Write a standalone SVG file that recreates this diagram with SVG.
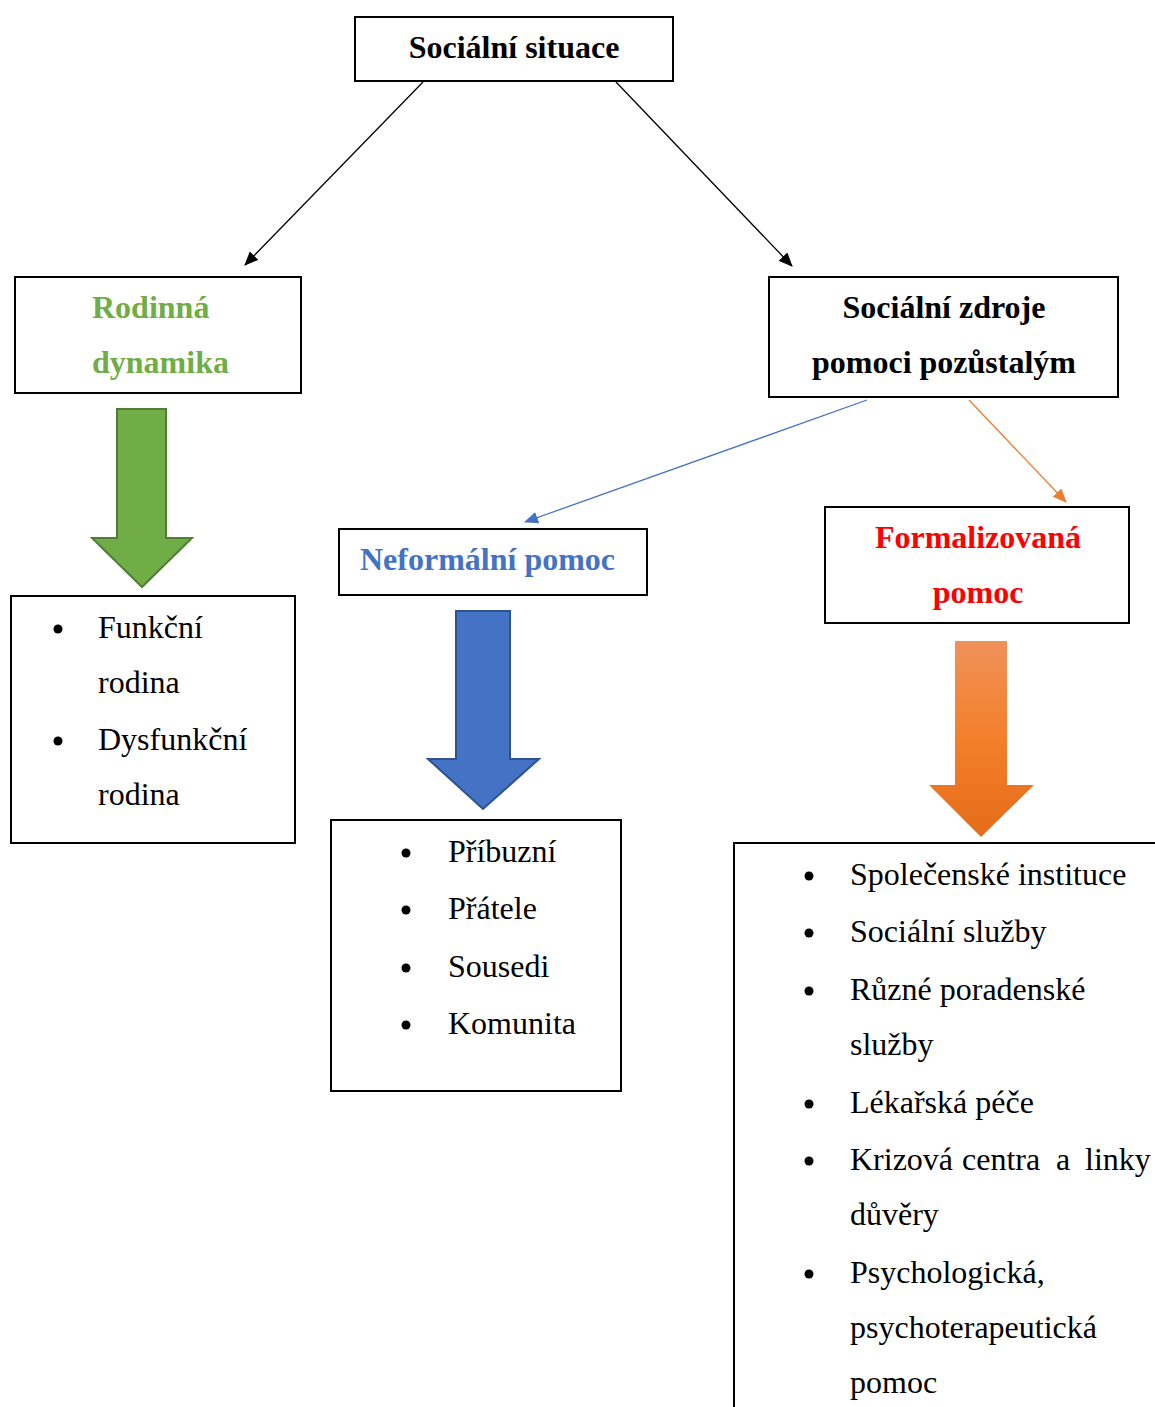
<svg xmlns="http://www.w3.org/2000/svg" width="1155" height="1407" viewBox="0 0 1155 1407">
<style>
.box{fill:#fff;stroke:#000;stroke-width:2}
.t{font-family:"Liberation Serif","Times New Roman",serif;font-size:32px;fill:#000}
.b{font-weight:bold}
.c{text-anchor:middle}
.dot{fill:#000}
</style>
<defs>
<marker id="ak" viewBox="0 0 14 12" refX="13" refY="6" markerWidth="14" markerHeight="12" orient="auto" markerUnits="userSpaceOnUse"><path d="M0,0 L14,6 L0,12 z" fill="#000"/></marker>
<marker id="ab" viewBox="0 0 14 12" refX="13" refY="6" markerWidth="14" markerHeight="12" orient="auto" markerUnits="userSpaceOnUse"><path d="M0,0 L14,6 L0,12 z" fill="#4472C4"/></marker>
<marker id="ao" viewBox="0 0 14 12" refX="13" refY="6" markerWidth="14" markerHeight="12" orient="auto" markerUnits="userSpaceOnUse"><path d="M0,0 L14,6 L0,12 z" fill="#ED7D31"/></marker>
<linearGradient id="og" x1="0" y1="0" x2="0" y2="1">
<stop offset="0" stop-color="#F0915A"/>
<stop offset="0.5" stop-color="#F47F2A"/>
<stop offset="1" stop-color="#E46C1A"/>
</linearGradient>
</defs>
<g id="connectors">
<line x1="423" y1="82" x2="245" y2="265" stroke="#000" stroke-width="1.3" marker-end="url(#ak)"/>
<line x1="616" y1="82" x2="792" y2="266" stroke="#000" stroke-width="1.3" marker-end="url(#ak)"/>
<line x1="867" y1="400" x2="525" y2="522" stroke="#4472C4" stroke-width="1.3" marker-end="url(#ab)"/>
<line x1="969" y1="400" x2="1066" y2="502" stroke="#ED7D31" stroke-width="1.3" marker-end="url(#ao)"/>
</g>
<g id="n-root">
<rect class="box" x="355" y="17" width="318" height="64"/>
<text class="t b c" x="514" y="58">Sociální situace</text>
</g>
<g id="n-rodinna">
<rect class="box" x="15" y="277" width="286" height="116"/>
<text class="t b" x="92" y="318" style="fill:#70AD47">Rodinná</text>
<text class="t b" x="92" y="373" style="fill:#70AD47">dynamika</text>
</g>
<g id="n-zdroje">
<rect class="box" x="769" y="277" width="349" height="120"/>
<text class="t b c" x="944" y="318">Sociální zdroje</text>
<text class="t b c" x="944" y="373">pomoci pozůstalým</text>
</g>
<g id="n-neformalni">
<rect class="box" x="339" y="529" width="308" height="66"/>
<text class="t b" x="360" y="570" style="fill:#4472C4">Neformální pomoc</text>
</g>
<g id="n-formalizovana">
<rect class="box" x="825" y="507" width="304" height="116"/>
<text class="t b c" x="978" y="548" style="fill:#FF0000">Formalizovaná</text>
<text class="t b c" x="978" y="603" style="fill:#FF0000">pomoc</text>
</g>
<g id="arrow-green">
<path d="M117,409 L166,409 L166,538 L192,538 L142,587 L92,538 L117,538 Z" fill="#70AD47" stroke="#507E32" stroke-width="2"/>
</g>
<g id="arrow-blue">
<path d="M456,611 L510,611 L510,759 L539,759 L483,809 L428,759 L456,759 Z" fill="#4472C4" stroke="#2F528F" stroke-width="2"/>
</g>
<g id="arrow-orange">
<path d="M955,641 L1007,641 L1007,785 L1034,785 L981,837 L929,785 L955,785 Z" fill="url(#og)"/>
</g>
<g id="n-list-rodina">
<rect class="box" x="11" y="596" width="284" height="247"/>
<circle class="dot" cx="58" cy="629" r="4.5"/>
<circle class="dot" cx="58" cy="741" r="4.5"/>
<text class="t" x="98" y="638">Funkční</text>
<text class="t" x="98" y="693">rodina</text>
<text class="t" x="98" y="750">Dysfunkční</text>
<text class="t" x="98" y="805">rodina</text>
</g>
<g id="n-list-neformalni">
<rect class="box" x="331" y="820" width="290" height="271"/>
<circle class="dot" cx="406" cy="853" r="4.5"/>
<circle class="dot" cx="406" cy="910" r="4.5"/>
<circle class="dot" cx="406" cy="968" r="4.5"/>
<circle class="dot" cx="406" cy="1025" r="4.5"/>
<text class="t" x="448" y="862">Příbuzní</text>
<text class="t" x="448" y="919">Přátele</text>
<text class="t" x="448" y="977">Sousedi</text>
<text class="t" x="448" y="1034">Komunita</text>
</g>
<g id="n-list-formalizovana">
<rect class="box" x="734" y="843" width="430" height="580"/>
<circle class="dot" cx="809" cy="876" r="4.5"/>
<circle class="dot" cx="809" cy="933" r="4.5"/>
<circle class="dot" cx="809" cy="991" r="4.5"/>
<circle class="dot" cx="809" cy="1104" r="4.5"/>
<circle class="dot" cx="809" cy="1161" r="4.5"/>
<circle class="dot" cx="809" cy="1274" r="4.5"/>
<text class="t" x="850" y="885">Společenské instituce</text>
<text class="t" x="850" y="942">Sociální služby</text>
<text class="t" x="850" y="1000">Různé poradenské</text>
<text class="t" x="850" y="1055">služby</text>
<text class="t" x="850" y="1113">Lékařská péče</text>
<text class="t" y="1170"><tspan x="850">Krizová</tspan><tspan x="962">centra</tspan><tspan x="1056">a</tspan><tspan x="1085">linky</tspan></text>
<text class="t" x="850" y="1225">důvěry</text>
<text class="t" x="850" y="1283">Psychologická,</text>
<text class="t" x="850" y="1338">psychoterapeutická</text>
<text class="t" x="850" y="1393">pomoc</text>
</g>
</svg>
